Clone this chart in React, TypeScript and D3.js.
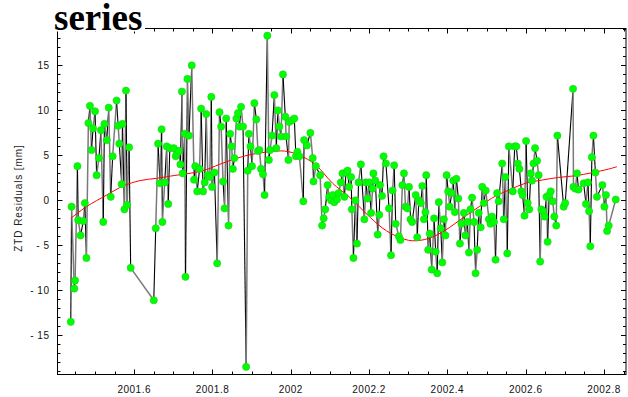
import React from "react";
import * as d3 from "d3";

// Epoch (decimal year) of each residual sample
const years = [
  2001.438, 2001.44, 2001.447, 2001.449, 2001.455, 2001.457, 2001.463, 2001.47, 2001.474, 2001.478,
  2001.483, 2001.487, 2001.491, 2001.495, 2001.5, 2001.504, 2001.51, 2001.515, 2001.521, 2001.524,
  2001.53, 2001.535, 2001.54, 2001.545, 2001.555, 2001.559, 2001.562, 2001.568, 2001.57, 2001.575,
  2001.579, 2001.582, 2001.587, 2001.591, 2001.65, 2001.655, 2001.661, 2001.666, 2001.67, 2001.672,
  2001.678, 2001.683, 2001.687, 2001.691,
  2001.701, 2001.706, 2001.709, 2001.714, 2001.718, 2001.722, 2001.724, 2001.729, 2001.731, 2001.736,
  2001.74, 2001.747, 2001.753, 2001.756, 2001.761, 2001.767, 2001.771, 2001.776, 2001.78, 2001.784,
  2001.788, 2001.793, 2001.797, 2001.799, 2001.805, 2001.812, 2001.818, 2001.822, 2001.827, 2001.831,
  2001.835, 2001.841, 2001.845, 2001.849, 2001.852, 2001.856, 2001.861, 2001.865, 2001.869, 2001.873,
  2001.878, 2001.886, 2001.89, 2001.893, 2001.897, 2001.901, 2001.907, 2001.912, 2001.916, 2001.92,
  2001.924, 2001.929, 2001.933, 2001.94, 2001.944, 2001.947, 2001.952, 2001.958, 2001.963, 2001.967,
  2001.971, 2001.975, 2001.98,
  2001.986, 2001.988, 2001.994, 2001.996, 2002.003, 2002.009, 2002.013, 2002.017, 2002.022, 2002.032,
  2002.034, 2002.041, 2002.05, 2002.056, 2002.058, 2002.064, 2002.075, 2002.08, 2002.084, 2002.088,
  2002.094, 2002.098, 2002.103, 2002.107, 2002.111, 2002.118, 2002.122, 2002.128, 2002.132, 2002.137,
  2002.141, 2002.145, 2002.149, 2002.154, 2002.156, 2002.16, 2002.165, 2002.169, 2002.173, 2002.179,
  2002.188, 2002.192, 2002.196, 2002.2, 2002.205, 2002.209, 2002.211, 2002.216, 2002.222, 2002.226,
  2002.228, 2002.233, 2002.237, 2002.243, 2002.251, 2002.256, 2002.26, 2002.264, 2002.268,
  2002.276, 2002.28, 2002.285, 2002.289, 2002.293, 2002.298, 2002.302, 2002.306, 2002.31, 2002.319,
  2002.323, 2002.327, 2002.332, 2002.336, 2002.34, 2002.344, 2002.346, 2002.351, 2002.355, 2002.36,
  2002.366, 2002.37, 2002.374, 2002.378, 2002.383, 2002.387, 2002.391, 2002.395, 2002.398, 2002.402,
  2002.406, 2002.411, 2002.415, 2002.419, 2002.423, 2002.428, 2002.432, 2002.436, 2002.442, 2002.446,
  2002.451, 2002.455, 2002.459, 2002.463, 2002.468, 2002.472, 2002.476, 2002.48, 2002.485, 2002.489,
  2002.493, 2002.498, 2002.506, 2002.51, 2002.514, 2002.519, 2002.523, 2002.527, 2002.531, 2002.54,
  2002.544, 2002.548, 2002.553, 2002.557,
  2002.567, 2002.572, 2002.576, 2002.58, 2002.584, 2002.589, 2002.592, 2002.597, 2002.601, 2002.605,
  2002.609, 2002.613, 2002.616, 2002.62, 2002.624, 2002.629, 2002.633, 2002.637, 2002.64, 2002.644,
  2002.648, 2002.653, 2002.656, 2002.66, 2002.664, 2002.669, 2002.673, 2002.678, 2002.681, 2002.697,
  2002.701, 2002.721, 2002.722, 2002.727, 2002.731, 2002.735, 2002.748, 2002.754, 2002.759, 2002.762,
  2002.765, 2002.769, 2002.773, 2002.778, 2002.782, 2002.796, 2002.801, 2002.805, 2002.808, 2002.812,
  2002.83,
];

// ZTD residual per epoch [mm]
const residuals = [
  -13.5, -0.7, -9.8, -8.9, 3.8, -2.2, -3.9, -2.3, -0.3, -6.4,
  8.6, 10.5, 5.6, 8.0, 9.9, 2.8, 4.7, 7.8, -2.4, 8.5,
  6.7, 10.3, 0.4, 4.9, 11.1, 8.3, 6.3, 1.8, 8.5, -1.0,
  12.2, -0.5, 5.9, -7.5, -11.1, -3.1, 6.3, 1.9, 7.9, -2.4,
  2.0, 6.0, -0.4, 5.8,
  5.8, 4.9, 5.2, 5.5, 4.0, 12.1, 3.0, 7.4, -8.5, 13.5,
  7.2, 15.0, 2.3, 3.8, 1.0, 3.5, 10.2, 1.0, 2.0, 9.6,
  2.8, 2.6, 11.5, 1.5, 3.1, -7.0, 9.8, 8.2, 2.1, -0.9,
  9.1, -2.8, 7.4, 6.0, 3.5, 4.7, 9.1, 9.7, 8.2, 10.4,
  8.2, -18.5, 3.3, 7.4, 6.0, 3.8, 10.8, 9.0, 5.5, 5.6,
  3.5, 2.9, 0.6, 18.3, 4.5, 5.6, 7.2, 11.7, 5.8, 10.0,
  8.2, 7.1, 14.0,
  9.3, 7.1, 4.5, 8.7, 8.9, 9.1, 4.9, 5.4, 4.9, -0.1,
  6.7, 6.1, 7.5, 4.7, 2.1, 3.8, 2.8, -2.8, -2.0, -1.0,
  1.7, 0.4, 0.0, 0.6, -0.2, 0.1, 0.8, 2.0, 3.0, 0.4,
  3.1, 3.3, 1.5, 2.6, -1.0, -6.4, 0.0, -4.8, 2.0, 4.0,
  -2.1, 2.0, 0.2, 2.0, -1.4, 1.3, 3.0, 2.2, -3.8, -1.6,
  1.7, 0.5, 4.9, 4.1, -0.9, -6.1, 1.1, 3.9, -2.6,
  -4.0, -4.4, 1.7, 3.0, -0.7, -0.9, 1.5, -2.1, -2.4, 0.6,
  -4.1, 0.0, -0.3, 1.6, -2.1, -1.3, 2.8, -5.5, -3.7, -7.7,
  -2.0, -5.7, -8.1, -0.2, -3.1, -6.9, -2.1, -3.9, 2.8, 1.0,
  -0.7, 0.8, 2.2, -1.3, 2.4, 0.2, -4.8, -2.6, -1.4, -3.9,
  -2.4, -5.8, -1.0, 0.3, -2.4, -8.1, -5.5, -1.4, -3.0, 1.5,
  -0.3, 1.1, -2.1, -2.6, -1.8, -2.4, -6.6, 0.8, -0.1, 4.1,
  -2.1, 2.6, -5.9, 6.0,
  1.0, 6.0, 6.0, 4.1, 3.5, 1.0, 0.6, -1.7, 6.6, -0.3,
  -1.0, 3.0, 2.2, 4.1, 5.8, 4.4, 2.8, -6.8, -1.0, -1.2,
  -1.8, 0.4, -4.6, 0.6, 1.0, -0.1, -1.8, -2.8, 7.2, -0.7,
  -0.3, 12.4, 1.5, 1.3, 3.0, 1.2, 1.9, -0.4, 2.0, -1.2,
  -5.1, 4.8, 7.2, 3.1, 0.4, 1.7, -0.7, 0.6, -3.4, -2.8,
  0.1,
];

// Smooth fitted trend through the residuals
const trendYears = [
  2001.438, 2001.478, 2001.53, 2001.572, 2001.615, 2001.657, 2001.693, 2001.776, 2001.818, 2001.861,
  2001.903, 2001.946, 2001.984, 2002.022, 2002.064, 2002.107, 2002.149, 2002.192, 2002.235, 2002.273,
  2002.31, 2002.353, 2002.395, 2002.438, 2002.481, 2002.523, 2002.561, 2002.599, 2002.642, 2002.684,
  2002.727, 2002.769, 2002.812, 2002.833,
];
const trendValues = [
  -2.0, -0.7, 0.6, 1.6, 2.2, 2.45, 2.7, 3.3, 4.0, 4.67,
  5.14, 5.4, 5.48, 5.03, 3.92, 1.89, 0.4, -1.44, -3.1, -4.04,
  -4.49, -4.22, -3.3, -2.0, -0.7, 0.48, 1.22, 1.9, 2.26, 2.55,
  2.74, 3.07, 3.48, 3.74,
];

const xTickValues = [2001.6, 2001.8, 2002, 2002.2, 2002.4, 2002.6, 2002.8];
const xTickLabels = ["2001.6", "2001.8", "2002", "2002.2", "2002.4", "2002.6", "2002.8"];
const yTickValues = [-15, -10, -5, 0, 5, 10, 15];
const yTickLabels = ["- 15", "- 10", "- 5", "0", "5", "10", "15"];

const W = 628;
const H = 397;
const plotLeft = 57.5;
const plotRight = 626;
const plotTop = 28.5;
const plotBottom = 374.5;

const sans = "'Liberation Sans', Arial, sans-serif";

export default function App() {
  const x = d3.scaleLinear().domain([2001.4041, 2002.8562]).range([plotLeft, plotRight]);
  const y = d3.scaleLinear().domain([-19.35, 19.1]).range([plotBottom, plotTop]);

  const [x0, x1] = x.domain();
  const xMinor = d3
    .range(Math.ceil(x0 / 0.05), Math.floor(x1 / 0.05) + 1)
    .map((k) => +(k * 0.05).toFixed(2));
  const isXMajor = (v: number) => Math.abs(v * 5 - Math.round(v * 5)) < 1e-6;

  const [y0, y1] = y.domain();
  const yMinor = d3.range(Math.ceil(y0), Math.floor(y1) + 1);
  const isYMajor = (v: number) => v % 5 === 0;

  const trendLine = d3
    .line<number>()
    .x((_, i) => x(trendYears[i]))
    .y((d) => y(d))
    .curve(d3.curveCatmullRom.alpha(0.5));

  const segments = years.slice(1).map((yr, i) => ({
    x1: x(years[i]),
    y1: y(residuals[i]),
    x2: x(yr),
    y2: y(residuals[i + 1]),
    dark: i % 2 === 0,
  }));

  return (
    <svg
      width={W}
      height={H}
      style={{ position: "absolute", left: 0, top: 0, background: "#fff" }}
      xmlns="http://www.w3.org/2000/svg"
    >
      <rect x={0} y={0} width={W} height={H} fill="#fff" />

      {/* frame */}
      <rect
        x={plotLeft}
        y={plotTop}
        width={plotRight - plotLeft}
        height={plotBottom - plotTop}
        fill="none"
        stroke="#000"
        strokeWidth={1}
      />

      {/* x ticks on bottom and top edges */}
      {xMinor.map((v) => {
        const len = isXMajor(v) ? 5 : 3;
        const px = Math.round(x(v)) + 0.5;
        return (
          <g key={`xt${v}`} stroke="#000" strokeWidth={1}>
            <line x1={px} x2={px} y1={plotBottom} y2={plotBottom - len} />
            <line x1={px} x2={px} y1={plotTop} y2={plotTop + len} />
          </g>
        );
      })}

      {/* y ticks on left and right edges */}
      {yMinor.map((v) => {
        const len = isYMajor(v) ? 5 : 3;
        const py = Math.round(y(v)) + 0.5;
        return (
          <g key={`yt${v}`} stroke="#000" strokeWidth={1}>
            <line x1={plotLeft} x2={plotLeft + len} y1={py} y2={py} />
            <line x1={plotRight} x2={plotRight - len} y1={py} y2={py} />
          </g>
        );
      })}

      {/* x tick labels */}
      {xTickValues.map((v, i) => (
        <text
          key={`xl${v}`}
          x={x(v)}
          y={393}
          textAnchor="middle"
          fontFamily={sans}
          fontSize={10}
          letterSpacing={0.5}
          fill="#111"
        >
          {xTickLabels[i]}
        </text>
      ))}

      {/* y tick labels */}
      {yTickValues.map((v, i) => (
        <text
          key={`yl${v}`}
          x={49.5}
          y={y(v)}
          dy="0.35em"
          textAnchor="end"
          fontFamily={sans}
          fontSize={10}
          letterSpacing={0.5}
          fill="#111"
        >
          {yTickLabels[i]}
        </text>
      ))}

      {/* y axis title */}
      <text
        transform="translate(21.5,198) rotate(-90)"
        textAnchor="middle"
        fontFamily={sans}
        fontSize={10}
        letterSpacing={0.9}
        fill="#222"
      >
        ZTD Residuals [mm]
      </text>

      {/* residual series */}
      {segments.map((s, i) => (
        <line
          key={`s${i}`}
          x1={s.x1}
          y1={s.y1}
          x2={s.x2}
          y2={s.y2}
          stroke={s.dark ? "#000" : "#7a7a7a"}
          strokeWidth={s.dark ? 1.1 : 1.5}
        />
      ))}

      {/* trend */}
      <path d={trendLine(trendValues) || ""} fill="none" stroke="#ff0000" strokeWidth={1} />

      {/* markers */}
      {years.map((yr, i) => (
        <circle
          key={`m${i}`}
          cx={x(yr)}
          cy={y(residuals[i])}
          r={3.6}
          fill="#00ff00"
          stroke="#22cc22"
          strokeWidth={0.6}
        />
      ))}

      {/* title */}
      <rect x={52} y={0} width={93} height={31.5} fill="#fff" />
      <text
        x={54}
        y={29.5}
        fontFamily="'Liberation Serif', 'Times New Roman', serif"
        fontWeight="bold"
        fontSize={37}
        fill="#000"
      >
        series
      </text>
    </svg>
  );
}
